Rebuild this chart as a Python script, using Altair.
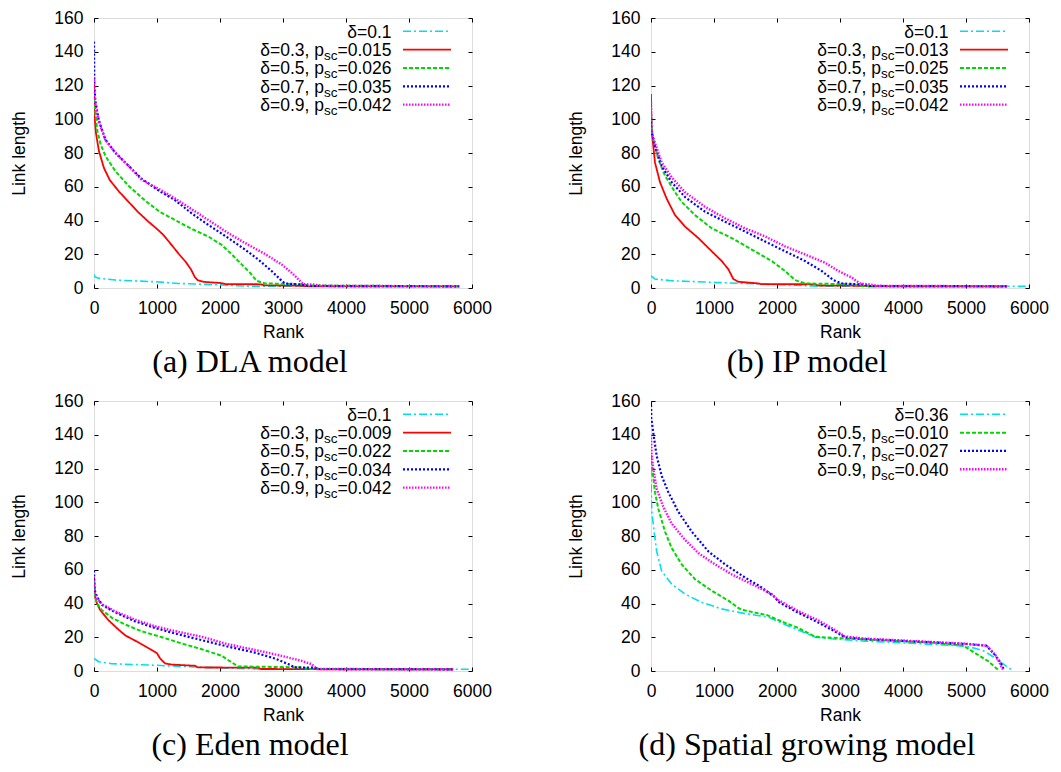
import altair as alt
import pandas as pd

# ---------------- data ----------------
RANK_TICKS = [0, 1000, 2000, 3000, 4000, 5000, 6000]
LEN_TICKS = [0, 20, 40, 60, 80, 100, 120, 140, 160]

# (a) DLA model
A_CYAN_R = [0, 20, 74, 338, 971, 1340, 1973, 2300, 2500, 5750]
A_CYAN_L = [8, 6.5, 5.8, 4.7, 3.7, 2.7, 1.9, 1.3, 1.0, 1.0]
A_RED_R = [0, 8, 30, 79, 159, 250, 400, 550, 700, 873, 1000, 1100, 1243, 1350, 1455, 1540, 1600, 1650, 1750, 2000, 2100, 2650, 2700, 3300, 3400, 5770]
A_RED_L = [121, 102, 92, 81, 71, 64, 57, 51, 45, 39, 35, 31.5, 25, 20, 15.5, 11, 6.5, 4.5, 3.6, 3.0, 2.3, 2.2, 1.6, 1.3, 1.0, 1.0]
A_GREEN_R = [0, 16, 53, 106, 185, 344, 556, 820, 1050, 1300, 1551, 1815, 2026, 2185, 2343, 2475, 2580, 2712, 3300, 3400, 5800]
A_GREEN_L = [112, 106, 93, 85, 78, 69, 60.3, 51.5, 45, 40, 35, 30.5, 25.5, 20, 14, 9.1, 4.3, 2.7, 2.2, 1.5, 1.0]
A_BLUE_R = [0, 5, 21, 74, 179, 338, 549, 760, 1024, 1288, 1551, 1815, 2132, 2396, 2607, 2818, 2950, 3029, 3300, 3400, 5800]
A_BLUE_L = [146, 120, 111, 99.7, 88, 80.2, 72.4, 64.6, 57.8, 52, 44.2, 37.4, 29.6, 22.8, 16.9, 10.1, 5.3, 2.7, 2.0, 1.2, 1.0]
A_MAG_R = [0, 5, 21, 74, 179, 338, 549, 760, 1024, 1288, 1551, 1815, 2132, 2396, 2712, 2976, 3135, 3266, 3319, 3500, 3600, 5800]
A_MAG_L = [125, 115, 109, 98.7, 88, 80, 72.4, 64, 58.8, 53, 46.7, 40.3, 32.5, 26.7, 20.2, 14, 9.1, 4.3, 2.3, 2.0, 1.3, 1.0]

# (b) IP model
B_CYAN_R = [0, 63, 328, 1016, 1492, 2074, 2500, 2700, 6000]
B_CYAN_L = [7.2, 5.3, 4.3, 3.3, 2.7, 1.9, 1.3, 1.0, 1.0]
B_RED_R = [0, 5, 21, 63, 143, 249, 381, 540, 751, 963, 1122, 1228, 1307, 1386, 1704, 1750, 2600, 2650, 3400, 3450, 5550]
B_RED_L = [115, 95, 90, 74.4, 62.7, 52.9, 43.2, 36.4, 29.6, 21.8, 16, 11.1, 5.3, 3.7, 2.7, 2.3, 2.2, 1.5, 1.3, 1.0, 1.0]
B_GREEN_R = [0, 10, 37, 116, 222, 381, 487, 698, 963, 1280, 1598, 1915, 2127, 2286, 2444, 3200, 3300, 3400, 5650]
B_GREEN_L = [107, 95, 88, 76.3, 66.6, 56.8, 51, 43.2, 35.4, 29.6, 22.8, 16, 10.1, 4.7, 2.7, 2.2, 1.5, 1.0, 1.0]
B_BLUE_R = [0, 10, 63, 169, 328, 540, 857, 1175, 1492, 1810, 2127, 2444, 2709, 2894, 3026, 3400, 3450, 5650]
B_BLUE_L = [101, 92, 84, 72.4, 62.7, 53.9, 45.2, 39.3, 33.5, 27.6, 21.8, 16, 10.1, 4.7, 2.7, 2.0, 1.2, 1.0]
B_MAG_R = [0, 10, 63, 169, 328, 540, 857, 1175, 1492, 1810, 2127, 2444, 2762, 2974, 3185, 3317, 3500, 3600, 5650]
B_MAG_L = [110, 92, 86, 74.4, 65.6, 56.8, 48.1, 41.3, 35.4, 30.6, 24.7, 19.9, 15, 10.1, 6.2, 2.7, 2.0, 1.3, 1.0]

# (c) Eden model
C_CYAN_R = [0, 74, 285, 918, 1499, 2237, 2600, 3000, 6000]
C_CYAN_L = [7.4, 5.5, 4.3, 3.5, 2.5, 1.6, 1.2, 1.0, 1.0]
C_RED_R = [0, 10, 47, 100, 232, 390, 500, 703, 914, 1000, 1048, 1127, 1235, 1604, 1650, 2600, 2650, 3500, 3550, 5700]
C_RED_L = [55.7, 45, 40, 36, 30, 24.5, 21, 17, 12.5, 10.5, 7.5, 4.5, 3.8, 3.1, 2.1, 2.0, 1.2, 1.1, 1.0, 1.0]
C_GREEN_R = [0, 10, 47, 127, 285, 496, 760, 1077, 1393, 1710, 2026, 2185, 2290, 3300, 3400, 5700]
C_GREEN_L = [53.8, 45, 40, 36, 31.5, 27.5, 23.5, 20, 16.3, 12.9, 9, 5.1, 2.7, 2.2, 1.2, 1.0]
C_BLUE_R = [0, 10, 47, 127, 338, 654, 971, 1288, 1710, 2132, 2554, 2871, 3082, 3188, 3500, 3550, 5700]
C_BLUE_L = [59.6, 48, 44, 39.2, 34.7, 29.4, 25.5, 22.2, 18.3, 14.4, 10.9, 7.4, 4.1, 2.1, 2.0, 1.2, 1.0]
C_MAG_R = [0, 10, 47, 127, 338, 654, 971, 1288, 1710, 2132, 2554, 2976, 3293, 3451, 3530, 3600, 5700]
C_MAG_L = [53.8, 46, 43, 39.6, 35.3, 30.4, 26.5, 23.6, 20.3, 15.8, 12.5, 9, 6, 4.1, 1.6, 1.2, 1.0]

# (d) Spatial growing model
D_CYAN_R = [0, 5, 11, 37, 90, 169, 328, 540, 804, 1122, 1492, 1863, 2127, 2444, 2603, 2868, 3397, 3926, 4455, 4984, 5141, 5298, 5455, 5639, 5728]
D_CYAN_L = [120, 106, 95, 86.5, 70.9, 59.2, 51.5, 45.6, 40.7, 36.8, 34, 31.9, 27.5, 22.6, 20.1, 19.1, 17.7, 16.8, 15.8, 14.8, 13.5, 11.7, 7.8, 2.9, 0.6]
D_GREEN_R = [0, 10, 21, 63, 116, 222, 328, 487, 698, 963, 1228, 1400, 1500, 1850, 2127, 2339, 2603, 2868, 3397, 3926, 4455, 4958, 5141, 5351, 5508]
D_GREEN_L = [128, 122, 119.6, 106, 96.2, 82.6, 72.9, 63.2, 54.4, 47.6, 41.7, 37, 35.8, 33, 28.5, 25.5, 20.3, 19.7, 18.7, 17.7, 16.8, 15, 10.7, 5.8, 0.8]
D_BLUE_R = [0, 5, 37, 90, 169, 275, 434, 646, 910, 1175, 1492, 1757, 1968, 2021, 2339, 2656, 2868, 3079, 3397, 3926, 4455, 5000, 5325, 5455, 5550, 5602]
D_BLUE_L = [160, 150, 141, 127.4, 115.7, 106, 94.3, 82.6, 70.9, 63.2, 55.4, 49.5, 43.7, 41, 34.5, 28.7, 24.5, 20, 18.9, 18, 17, 16, 15, 9.7, 4.9, 0.8]
D_MAG_R = [0, 10, 37, 90, 196, 328, 540, 751, 1016, 1280, 1598, 1915, 2021, 2339, 2656, 2868, 3079, 3397, 3926, 4455, 5000, 5325, 5482, 5586]
D_MAG_L = [140, 128, 119.6, 107.9, 97.2, 87.4, 77.7, 69.9, 63.2, 57.3, 51.5, 45.6, 42, 35.5, 30, 25.5, 20.5, 19.2, 18.2, 17.2, 16.2, 15, 8.8, 0.8]

# legend texts
ABC_DELTA = ["0.1", "0.3", "0.5", "0.7", "0.9"]
A_PSC = ["", "0.015", "0.026", "0.035", "0.042"]
B_PSC = ["", "0.013", "0.025", "0.035", "0.042"]
C_PSC = ["", "0.009", "0.022", "0.034", "0.042"]
D_DELTA = ["0.36", "0.5", "0.7", "0.9"]
D_PSC = ["", "0.010", "0.027", "0.040"]
CAPTIONS = ["(a) DLA model", "(b) IP model", "(c) Eden model", "(d) Spatial growing model"]

# ---------------- styles ----------------
FONT = "Liberation Sans"
FS = 17.5
SUB_FS = 13.5
SERIES = ["cyan", "red", "green", "blue", "magenta"]
COLORS = ["#00e0ea", "#ff0000", "#00d800", "#0000ff", "#ff00ff"]
DASHES = [[8, 3, 2, 3], [1, 0], [4, 2], [2, 2], [1.5, 1.5]]
WIDTHS = [1.6, 2.4, 2.2, 2.2, 2.0]
W, H = 378, 270

COL = alt.Color("series:N", scale=alt.Scale(domain=SERIES, range=COLORS), legend=None)
DASH = alt.StrokeDash("series:N", scale=alt.Scale(domain=SERIES, range=DASHES), legend=None)
SW = alt.StrokeWidth("series:N", scale=alt.Scale(domain=SERIES, range=WIDTHS), legend=None)
XS = alt.Scale(domain=[0, 6000], nice=False, zero=False)
YS = alt.Scale(domain=[0, 160], nice=False, zero=False)

AX_COMMON = dict(offset=-4, tickSize=4, tickColor="#000", tickWidth=1, domain=False, grid=False,
                 labelFont=FONT, labelFontSize=FS, labelColor="#000", labelFlush=False,
                 labelOverlap=False, titleFont=FONT, titleFontSize=FS, titleFontWeight="normal",
                 titleColor="#000")
X_AXIS = alt.Axis(orient="bottom", values=RANK_TICKS, format="d", labelPadding=11,
                  title="Rank", titlePadding=7, **AX_COMMON)
Y_AXIS = alt.Axis(orient="left", values=LEN_TICKS, format="d", labelPadding=11,
                  title="Link length", titlePadding=25, **AX_COMMON)
X_TOP = alt.Axis(orient="top", values=RANK_TICKS, labels=False, title=None, offset=-4, tickSize=4,
                 tickColor="#000", domain=False, grid=False)
Y_RIGHT = alt.Axis(orient="right", values=LEN_TICKS, labels=False, title=None, offset=-4, tickSize=4,
                   tickColor="#000", domain=False, grid=False)

ARIAL = {"δ": 0.556, "=": 0.584, ".": 0.278, ",": 0.278, " ": 0.278, "p": 0.556, "s": 0.5, "c": 0.5}
for _d in "0123456789":
    ARIAL[_d] = 0.556


def text_width(s, size):
    return sum(ARIAL.get(ch, 0.556) for ch in s) * size


LEG_END = 297.5
LEG_X1, LEG_X2 = 309, 357


def panel(series, deltas, pscs, caption):
    lines = []
    first_df = None
    for i, (key, r, l) in enumerate(series):
        df = pd.DataFrame({"rank": r, "len": l, "series": key})
        if first_df is None:
            first_df = df
        lines.append(
            alt.Chart(df).mark_line(strokeCap="butt", strokeJoin="round", clip=True).encode(
                x=alt.X("rank:Q", scale=XS, axis=X_AXIS if i == 0 else None),
                y=alt.Y("len:Q", scale=YS, axis=Y_AXIS if i == 0 else None),
                color=COL, strokeDash=DASH, strokeWidth=SW,
            )
        )
    mirror = alt.Chart(first_df).mark_line(opacity=0).encode(
        x=alt.X("rank:Q", scale=XS, axis=X_TOP),
        y=alt.Y("len:Q", scale=YS, axis=Y_RIGHT),
    )
    plot = alt.layer(*lines, mirror).resolve_axis(x="independent", y="independent")

    keys = [s[0] for s in series]
    prefix, sub, suffix = [], [], []
    for d, p in zip(deltas, pscs):
        if p:
            prefix.append("δ=" + d + ", p")
            sub.append("sc")
            suffix.append("=" + p)
        else:
            prefix.append("")
            sub.append("")
            suffix.append("δ=" + d)
    ldf = pd.DataFrame({"row": list(range(len(keys))), "series": keys,
                        "prefix": prefix, "sub": sub, "suffix": suffix})
    w_suf = max(text_width(s, FS) for s, p in zip(suffix, pscs) if p)
    w_sub = text_width("sc", SUB_FS)
    ys = alt.Y("row:Q", scale=alt.Scale(domain=[0, 1], range=[13.3, 31.63], nice=False, zero=False), axis=None)
    rule = alt.Chart(ldf).mark_rule(strokeCap="butt").encode(
        x=alt.value(LEG_X1), x2=alt.value(LEG_X2), y=ys, color=COL, strokeDash=DASH, strokeWidth=SW)
    tkw = dict(baseline="alphabetic", font=FONT, color="#000", align="right")
    t_pre = alt.Chart(ldf).mark_text(dy=6.3, fontSize=FS, **tkw).encode(
        x=alt.value(LEG_END - w_suf - w_sub), y=ys, text="prefix:N")
    t_sub = alt.Chart(ldf).mark_text(dy=10.5, fontSize=SUB_FS, **tkw).encode(
        x=alt.value(LEG_END - w_suf), y=ys, text="sub:N")
    t_suf = alt.Chart(ldf).mark_text(dy=6.3, fontSize=FS, **tkw).encode(
        x=alt.value(LEG_END), y=ys, text="suffix:N")
    legend = alt.layer(rule, t_pre, t_sub, t_suf)

    return alt.layer(plot, legend).resolve_scale(y="independent").properties(
        width=W, height=H,
        title=alt.Title(caption, orient="bottom", anchor="middle", frame="group", dx=-33, offset=6,
                        font="Liberation Serif", fontSize=32, fontWeight="normal", color="#000",
                        baseline="top"),
    )


pa = panel([("cyan", A_CYAN_R, A_CYAN_L), ("red", A_RED_R, A_RED_L), ("green", A_GREEN_R, A_GREEN_L),
            ("blue", A_BLUE_R, A_BLUE_L), ("magenta", A_MAG_R, A_MAG_L)], ABC_DELTA, A_PSC, CAPTIONS[0])
pb = panel([("cyan", B_CYAN_R, B_CYAN_L), ("red", B_RED_R, B_RED_L), ("green", B_GREEN_R, B_GREEN_L),
            ("blue", B_BLUE_R, B_BLUE_L), ("magenta", B_MAG_R, B_MAG_L)], ABC_DELTA, B_PSC, CAPTIONS[1])
pc = panel([("cyan", C_CYAN_R, C_CYAN_L), ("red", C_RED_R, C_RED_L), ("green", C_GREEN_R, C_GREEN_L),
            ("blue", C_BLUE_R, C_BLUE_L), ("magenta", C_MAG_R, C_MAG_L)], ABC_DELTA, C_PSC, CAPTIONS[2])
pd_ = panel([("cyan", D_CYAN_R, D_CYAN_L), ("green", D_GREEN_R, D_GREEN_L),
             ("blue", D_BLUE_R, D_BLUE_L), ("magenta", D_MAG_R, D_MAG_L)], D_DELTA, D_PSC, CAPTIONS[3])

chart = alt.concat(pa, pb, pc, pd_, columns=2, spacing={"row": 113, "column": 179}, bounds="flush").properties(
    padding={"left": 2, "top": 0, "right": 0, "bottom": 0}
).configure_view(stroke="#000", strokeWidth=1.3).configure(background="white")

chart.save("out.html", embed_options={"renderer": "svg", "actions": False})
